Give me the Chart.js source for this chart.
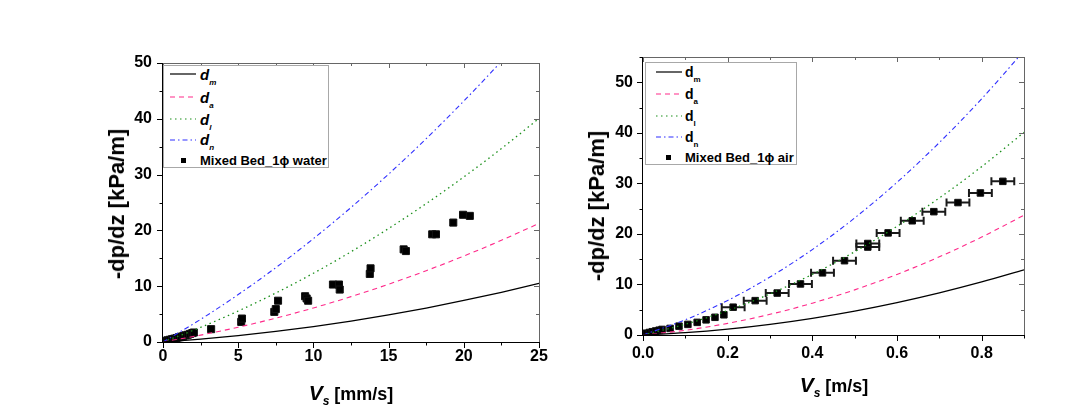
<!DOCTYPE html>
<html><head><meta charset="utf-8">
<script src="https://cdn.jsdelivr.net/npm/chart.js@4.4.1/dist/chart.umd.min.js"></script>
<style>
html,body{margin:0;padding:0;background:#fff;}
#wrap{position:relative;width:1084px;height:412px;overflow:hidden;font-family:"Liberation Sans",Arial,sans-serif;color:#000;}
canvas{position:absolute;left:0;top:0;}
.ytitle{position:absolute;font-weight:bold;font-size:22px;line-height:1;white-space:nowrap;transform:translate(-50%,-50%) rotate(-90deg);}
.xtitle{position:absolute;font-weight:bold;font-size:18px;line-height:24px;white-space:nowrap;transform:translateX(-50%);}
.xtitle .v{font-style:italic;font-size:21px;}
.xtitle .s{font-style:italic;font-size:12px;vertical-align:-5px;line-height:1;}
.legend{position:absolute;border:1px solid #a8a8a8;background:#fff;box-sizing:border-box;}
.legend svg{position:absolute;}
.legend .t{position:absolute;font-weight:bold;line-height:1;white-space:nowrap;}
.legend .sub{font-size:8px;vertical-align:-5px;line-height:1;}
.legend .mk{position:absolute;width:5px;height:5px;background:#000;}
</style></head>
<body><div id="wrap">
<canvas id="cL" width="1084" height="412"></canvas>
<canvas id="cR" width="1084" height="412"></canvas>

<div class="ytitle" style="left:117px;top:204px;">-dp/dz [kPa/m]</div>
<div class="ytitle" style="left:597px;top:206px;">-dp/dz [kPa/m]</div>
<div class="xtitle" style="left:351px;top:381px;"><span class="v">V</span><span class="s">s</span> [mm/s]</div>
<div class="xtitle" style="left:834px;top:373px;"><span class="v">V</span><span class="s">s</span> [m/s]</div>

<div class="legend" style="left:163px;top:65px;width:166px;height:103px;">
  <svg style="left:6px;top:-2px" width="26" height="20"><line x1="0" y1="10" x2="26" y2="10" stroke="#000" stroke-width="1.2"/></svg>
  <div class="t" style="left:36px;top:1px;font-size:15px;"><i>d</i><i class="sub">m</i></div>
  <svg style="left:6px;top:20.7px" width="26" height="20"><line x1="0" y1="10" x2="26" y2="10" stroke="#ff2a8a" stroke-width="1.2" stroke-dasharray="5,4"/></svg>
  <div class="t" style="left:36px;top:23.5px;font-size:15px;"><i>d</i><i class="sub">a</i></div>
  <svg style="left:6px;top:43px" width="26" height="20"><line x1="0" y1="10" x2="26" y2="10" stroke="#1a8f1a" stroke-width="1.2" stroke-dasharray="1.5,3.5"/></svg>
  <div class="t" style="left:36px;top:46px;font-size:15px;"><i>d</i><i class="sub">l</i></div>
  <svg style="left:6px;top:63.5px" width="26" height="20"><line x1="0" y1="10" x2="26" y2="10" stroke="#2f2fff" stroke-width="1.2" stroke-dasharray="5,3,1.5,3"/></svg>
  <div class="t" style="left:36px;top:66px;font-size:15px;"><i>d</i><i class="sub">n</i></div>
  <div class="mk" style="left:17px;top:91.5px;"></div>
  <div class="t" style="left:36px;top:87.5px;font-size:13px;">Mixed Bed_1ϕ water</div>
</div>

<div class="legend" style="left:645px;top:62px;width:152px;height:103px;">
  <svg style="left:10px;top:-1.3px" width="26" height="20"><line x1="0" y1="10" x2="26" y2="10" stroke="#000" stroke-width="1.2"/></svg>
  <div class="t" style="left:39px;top:2px;font-size:14px;">d<span class="sub">m</span></div>
  <svg style="left:10px;top:21px" width="26" height="20"><line x1="0" y1="10" x2="26" y2="10" stroke="#ff2a8a" stroke-width="1.2" stroke-dasharray="5,4"/></svg>
  <div class="t" style="left:39px;top:24px;font-size:14px;">d<span class="sub">a</span></div>
  <svg style="left:10px;top:43px" width="26" height="20"><line x1="0" y1="10" x2="26" y2="10" stroke="#1a8f1a" stroke-width="1.2" stroke-dasharray="1.5,3.5"/></svg>
  <div class="t" style="left:39px;top:46px;font-size:14px;">d<span class="sub">l</span></div>
  <svg style="left:10px;top:64.3px" width="26" height="20"><line x1="0" y1="10" x2="26" y2="10" stroke="#2f2fff" stroke-width="1.2" stroke-dasharray="5,3,1.5,3"/></svg>
  <div class="t" style="left:39px;top:67.3px;font-size:14px;">d<span class="sub">n</span></div>
  <div class="mk" style="left:20px;top:91.8px;"></div>
  <div class="t" style="left:39px;top:88px;font-size:13px;">Mixed Bed_1ϕ air</div>
</div>
</div>

<script>
// ---------- Left panel (water), Vs in mm/s, -dp/dz in kPa/m ----------
const leftVs = [0, 2.5, 5, 7.5, 10, 12.5, 15, 17.5, 20, 22.5, 25];
const leftDm = [0, 0.51, 1.14, 1.89, 2.76, 3.75, 4.86, 6.09, 7.44, 8.91, 10.5];
const leftDa = [0, 1.23, 2.65, 4.28, 6.1, 8.13, 10.35, 12.78, 15.4, 18.23, 21.25];
const leftDl = [0, 2.62, 5.55, 8.78, 12.32, 16.17, 20.34, 24.8, 29.58, 34.66, 40.07];
const leftDn = [0, 4.05, 8.5, 13.32, 18.52, 24.11, 30.09, 36.44, 43.18, 50.3, 57.8];
const waterVs = [0.15,0.3,0.45,0.6,0.75,0.9,1.05,1.2,1.35,1.5,1.65,1.8,1.95,2.05,3.2,5.2,5.25,7.4,7.5,7.65,9.45,9.55,9.65,11.3,11.7,11.75,13.75,13.8,16.0,16.15,17.9,18.15,19.3,19.95,20.4];
const waterDp = [0.2,0.3,0.4,0.5,0.6,0.7,0.85,0.95,1.05,1.2,1.3,1.45,1.6,1.7,2.3,3.6,4.2,5.4,5.9,7.4,8.2,7.8,7.4,10.3,10.3,9.4,12.2,13.2,16.6,16.3,19.3,19.3,21.4,22.8,22.6];
const leftXTicks = {min: 0, max: 25, major: 5, minor: 2.5};
const leftYTicks = {min: 0, max: 50, major: 10, minor: 5};

// ---------- Right panel (air), Vs in m/s ----------
const rightVs = [0, 0.1, 0.2, 0.3, 0.4, 0.5, 0.6, 0.7, 0.8, 0.9];
const rightDm = [0, 0.46, 1.16, 2.11, 3.3, 4.73, 6.41, 8.33, 10.49, 12.9];
const rightDa = [0, 0.94, 2.3, 4.09, 6.3, 8.93, 11.99, 15.47, 19.37, 23.7];
const rightDl = [0, 2.13, 4.83, 8.13, 12.0, 16.46, 21.5, 27.11, 33.31, 40.09];
const rightDn = [0, 3.01, 6.84, 11.47, 16.9, 23.15, 30.2, 38.07, 46.74, 56.21];
const airVs = [0.002,0.008,0.015,0.022,0.030,0.038,0.045,0.064,0.085,0.106,0.128,0.149,0.170,0.191,0.213,0.265,0.317,0.372,0.424,0.476,0.531,0.531,0.579,0.636,0.687,0.744,0.797,0.850];
const airDp = [0.25,0.35,0.5,0.65,0.8,0.95,1.1,1.3,1.75,2.1,2.5,3.0,3.5,4.0,5.5,6.8,8.3,10.1,12.3,14.7,17.4,18.1,20.2,22.6,24.4,26.2,28.1,30.4];
const airVsErr = [0,0,0,0,0,0,0,0,0,0,0,0,0,0,0.027,0.027,0.027,0.027,0.027,0.027,0.027,0.027,0.027,0.027,0.027,0.027,0.027,0.027];
const rightXTicks = {min: 0, max: 0.9, major: 0.2, minor: 0.1};
const rightYTicks = {min: 0, max: 55, major: 10, minor: 5};

const COLORS = {dm: '#000000', da: '#ff2a8a', dl: '#1a8f1a', dn: '#2f2fff'};

Chart.defaults.font.family = "'Liberation Sans', Arial, sans-serif";
Chart.defaults.font.size = 16;
Chart.defaults.font.weight = 'bold';
Chart.defaults.color = '#000';

const zip = (xs, ys) => xs.map((x, i) => ({x, y: ys[i]}));

function curve(label, xs, ys, color, dash, width) {
  return {type: 'line', label, data: zip(xs, ys), borderColor: color, borderWidth: width || 1.1,
    borderDash: dash, pointRadius: 0, fill: false, cubicInterpolationMode: 'monotone'};
}
function pts(label, xs, ys, r) {
  return {type: 'scatter', label, data: zip(xs, ys), pointStyle: 'rect', pointRadius: r,
    backgroundColor: '#000', borderColor: '#111', borderWidth: 1};
}

const framePlugin = {
  id: 'frame',
  afterDraw(chart, args, opts) {
    const {ctx, chartArea: a} = chart;
    const sx = chart.scales.x, sy = chart.scales.y;
    ctx.save();
    ctx.lineWidth = 1;
    ctx.strokeStyle = '#666';
    ctx.beginPath();
    ctx.moveTo(a.left, a.top + 0.5); ctx.lineTo(a.right + 0.5, a.top + 0.5); ctx.lineTo(a.right + 0.5, a.bottom);
    ctx.stroke();
    const tk = (t, scale, horiz) => {
      const n = Math.round((t.max - t.min) / t.minor);
      for (let i = 0; i <= n; i++) {
        const v = t.min + i * t.minor;
        const isMajor = Math.abs(v / t.major - Math.round(v / t.major)) < 1e-6;
        const p = Math.round(scale.getPixelForValue(v)) + 0.5;
        const L = isMajor ? 6 : 3.5, Li = isMajor ? 5 : 3;
        ctx.strokeStyle = '#000';
        ctx.beginPath();
        if (horiz) { ctx.moveTo(p, a.bottom); ctx.lineTo(p, a.bottom + L); }
        else { ctx.moveTo(a.left, p); ctx.lineTo(a.left - L, p); }
        ctx.stroke();
        ctx.strokeStyle = '#666';
        ctx.beginPath();
        if (horiz) { ctx.moveTo(p, a.top); ctx.lineTo(p, a.top + Li); }
        else { ctx.moveTo(a.right, p); ctx.lineTo(a.right - Li, p); }
        ctx.stroke();
      }
    };
    tk(opts.xt, sx, true);
    tk(opts.yt, sy, false);
    ctx.strokeStyle = '#000';
    ctx.beginPath();
    ctx.moveTo(a.left - 0.5, a.top); ctx.lineTo(a.left - 0.5, a.bottom + 0.5); ctx.lineTo(a.right + 1, a.bottom + 0.5);
    ctx.stroke();
    ctx.restore();
  }
};

const errPlugin = {
  id: 'xerr',
  beforeDatasetsDraw(chart, args, opts) {
    if (!opts.xs) return;
    const {ctx} = chart;
    const sx = chart.scales.x, sy = chart.scales.y;
    ctx.save();
    ctx.strokeStyle = '#1a1a1a';
    ctx.lineWidth = 2;
    opts.xs.forEach((x, i) => {
      const e = opts.err[i];
      if (!e) return;
      const x1 = sx.getPixelForValue(x - e), x2 = sx.getPixelForValue(x + e), y = sy.getPixelForValue(opts.ys[i]);
      ctx.beginPath();
      ctx.moveTo(x1, y); ctx.lineTo(x2, y);
      ctx.moveTo(x1, y - 4); ctx.lineTo(x1, y + 4);
      ctx.moveTo(x2, y - 4); ctx.lineTo(x2, y + 4);
      ctx.stroke();
    });
    ctx.restore();
  }
};

function makeChart(id, datasets, xt, yt, geom, fmt, err) {
  return new Chart(document.getElementById(id), {
    data: {datasets},
    plugins: [framePlugin, errPlugin],
    options: {
      responsive: false, animation: false, events: [],
      layout: {padding: {left: 0, top: geom.top, right: geom.right, bottom: 0}},
      plugins: {legend: {display: false}, tooltip: {enabled: false},
        frame: {xt, yt}, xerr: err || {}},
      scales: {
        x: {type: 'linear', min: xt.min, max: xt.max,
          ticks: {stepSize: xt.major, padding: geom.xpad, includeBounds: false, callback: fmt},
          grid: {display: false, drawTicks: false}, border: {display: false},
          afterFit(s) { s.height = geom.xh; }},
        y: {type: 'linear', min: yt.min, max: yt.max,
          ticks: {stepSize: yt.major, padding: geom.ypad, includeBounds: false},
          grid: {display: false, drawTicks: false}, border: {display: false},
          afterFit(s) { s.width = geom.yw; }}
      }
    }
  });
}

makeChart('cL', [
  curve('dm', leftVs, leftDm, COLORS.dm, [], 1.3),
  curve('da', leftVs, leftDa, COLORS.da, [5, 4]),
  curve('dl', leftVs, leftDl, COLORS.dl, [1.5, 3.5], 1.3),
  curve('dn', leftVs, leftDn, COLORS.dn, [5, 3, 1.5, 3]),
  pts('Mixed Bed_1ϕ water', waterVs, waterDp, 5)
], leftXTicks, leftYTicks, {top: 63, right: 545, xh: 70, yw: 163, xpad: 5, ypad: 11}, v => String(v));

makeChart('cR', [
  curve('dm', rightVs, rightDm, COLORS.dm, [], 1.3),
  curve('da', rightVs, rightDa, COLORS.da, [5, 4]),
  curve('dl', rightVs, rightDl, COLORS.dl, [1.5, 3.5], 1.3),
  curve('dn', rightVs, rightDn, COLORS.dn, [5, 3, 1.5, 3]),
  pts('Mixed Bed_1ϕ air', airVs, airDp, 4.6)
], rightXTicks, rightYTicks, {top: 57, right: 60, xh: 77, yw: 643, xpad: 9, ypad: 10}, v => Number(v).toFixed(1),
  {xs: airVs, ys: airDp, err: airVsErr});
</script>
</body></html>
